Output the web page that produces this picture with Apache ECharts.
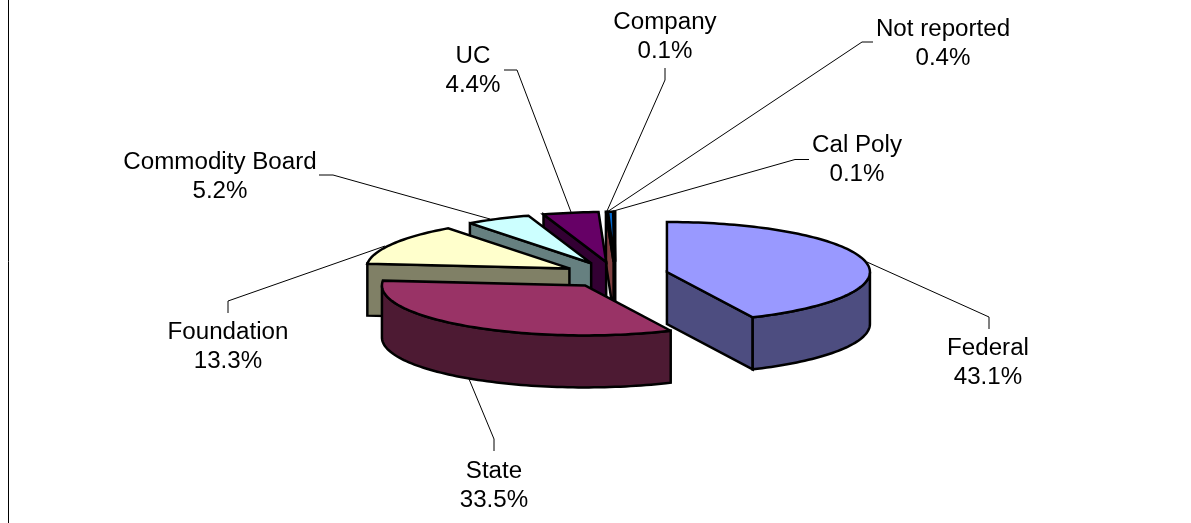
<!DOCTYPE html>
<html><head><meta charset="utf-8">
<style>html,body{margin:0;padding:0;background:#fff}#c{width:1191px;height:523px}</style>
<script src="https://cdn.jsdelivr.net/npm/echarts@6/dist/echarts.min.js"></script>
</head><body><div id="c"></div>
<script>
// ---- data ----
const categories = ['Federal','State','Foundation','Commodity Board','UC','Company','Not reported','Cal Poly'];
const shares = [43.1,33.5,13.3,5.2,4.4,0.1,0.4,0.1];
const shareLabels = ['43.1%','33.5%','13.3%','5.2%','4.4%','0.1%','0.4%','0.1%'];
// ---- styles ----
const topColors = ['#9999FF','#993366','#FFFFCC','#CCFFFF','#660066','#FF8080','#0066CC','#CCCCFF'];
const wallColors = ['#4D4D80','#4D1A33','#808066','#668080','#330033','#804040','#003366','#666680'];
const paintRank = [6,7,5,4,3,2,1,0];
// ---- layout ----
const cx=615.4, cy=274.8, rx=203, ry=50, depth=52, explode=0.26;
const labelPos = [[988,349],[494,472],[228,333],[220,163],[473,57],[665,23],[943,30],[857,146]];
const lineGap = 29, textScaleX = 1.05, fontSize = 23;
const leaders = [
 [[989,329],[989,317],[867,262]],
 [[494,451],[494,439],[469,379]],
 [[228,313],[228,301],[385,246]],
 [[319,175],[333,175],[490,219]],
 [[504,70],[517,70],[571,212]],
 [[665,68],[665,80],[607,211]],
 [[873,42],[862,42],[607,212]],
 [[809,159.5],[795,159.5],[610,212]]
];
const total = shares.reduce((a,b)=>a+b,0);
const toDeg = v => echarts.number.linearMap(v,[0,total],[0,360]);
const rad = d => d*Math.PI/180;
const pt = (c,t,k=1)=>[c[0]+rx*k*Math.sin(rad(t)), c[1]-ry*k*Math.cos(rad(t))];
const arc = (c,t0,t1)=>{const n=Math.max(2,Math.ceil(Math.abs(t1-t0)/1.5));const o=[];for(let i=0;i<=n;i++)o.push(pt(c,t0+(t1-t0)*i/n));return o;};
const down = p=>[p[0],p[1]+depth];
const stroke = {stroke:'#000',lineWidth:2.5,lineJoin:'miter',miterLimit:3};

function renderSlice(params, api){
  const i = params.dataIndex, v = api.value(0);
  let before = 0; for(let k=0;k<i;k++) before += shares[k];
  const t0 = toDeg(before), t1 = toDeg(before+v), mid=(t0+t1)/2;
  const off = pt([0,0],mid,explode);
  const c = [cx+off[0], cy+off[1]];
  const kids = [], base = paintRank[i]*10;
  const poly = (pts,fill,z)=>kids.push({type:'polygon',z2:base+z,shape:{points:pts},style:Object.assign({fill},stroke)});
  // cut faces
  if(t1>0 && t1<180){const e=pt(c,t1);poly([c,e,down(e),down(c)],wallColors[i],0);}
  if(t0>180 && t0<360){const e=pt(c,t0);poly([c,e,down(e),down(c)],wallColors[i],1);}
  // outer wall on the front half
  const a=Math.max(t0,90), b=Math.min(t1,270);
  if(b>a){const top=arc(c,a,b);poly(top.concat(top.map(down).reverse()),wallColors[i],2);}
  // top face
  poly([c].concat(arc(c,t0,t1)),topColors[i],3);
  return {type:'group',children:kids};
}

const graphics = [{type:'line',silent:true,shape:{x1:8.5,y1:0,x2:8.5,y2:523},style:{stroke:'#000',lineWidth:1}}];
leaders.forEach(l=>graphics.push({type:'polyline',silent:true,shape:{points:l},style:{stroke:'#000',lineWidth:1,fill:null}}));
categories.forEach((n,i)=>{
  [n,shareLabels[i]].forEach((s,j)=>graphics.push({type:'text',silent:true,x:labelPos[i][0],y:labelPos[i][1]+j*lineGap,scaleX:textScaleX,
    style:{text:s,fill:'#000',font:fontSize+'px "Liberation Sans", Arial, sans-serif',textAlign:'center',textVerticalAlign:'middle'}}));
});

const chart = echarts.init(document.getElementById('c'),null,{renderer:'canvas'});
chart.setOption({
  animation:false, backgroundColor:'#fff',
  graphic:{elements:graphics},
  series:[{type:'custom',coordinateSystem:'none',renderItem:renderSlice,silent:true,
    data:shares.map((v,i)=>({name:categories[i],value:[v]}))}]
});
</script></body></html>
